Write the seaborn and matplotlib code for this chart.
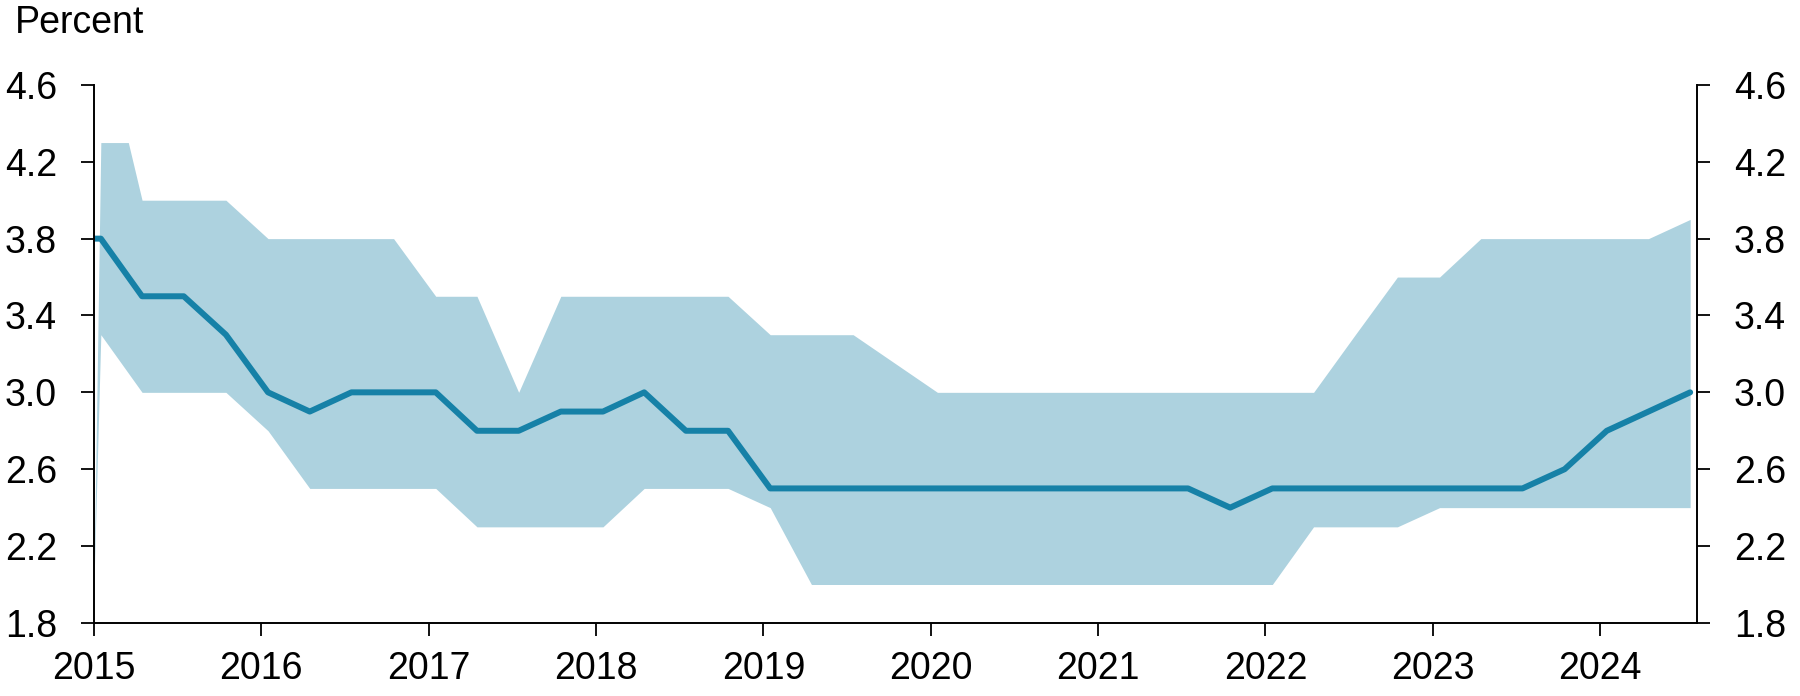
import matplotlib
matplotlib.use('Agg')
import matplotlib.pyplot as plt
import matplotlib.dates as mdates
import seaborn as sns
import pandas as pd

# -------------------------------
# DATA
# -------------------------------

quarters = [f'{y}-{m:02d}-16' for y in range(2015, 2025) for m in (1, 4, 7, 10)]
dates = ['2015-01-01', '2015-01-16', '2015-03-17'] + [d for d in quarters if '2015-04-16' <= d <= '2024-07-16']

median = [3.8, 3.8, 3.6,
          3.5, 3.5, 3.3,
          3.0, 2.9, 3.0, 3.0,
          3.0, 2.8, 2.8, 2.9,
          2.9, 3.0, 2.8, 2.8,
          2.5, 2.5, 2.5, 2.5,
          2.5, 2.5, 2.5, 2.5,
          2.5, 2.5, 2.5, 2.4,
          2.5, 2.5, 2.5, 2.5,
          2.5, 2.5, 2.5, 2.6,
          2.8, 2.9, 3.0]

low = [2.0, 3.3, 3.1,
       3.0, 3.0, 3.0,
       2.8, 2.5, 2.5, 2.5,
       2.5, 2.3, 2.3, 2.3,
       2.3, 2.5, 2.5, 2.5,
       2.4, 2.0, 2.0, 2.0,
       2.0, 2.0, 2.0, 2.0,
       2.0, 2.0, 2.0, 2.0,
       2.0, 2.3, 2.3, 2.3,
       2.4, 2.4, 2.4, 2.4,
       2.4, 2.4, 2.4]

high = [2.0, 4.3, 4.3,
        4.0, 4.0, 4.0,
        3.8, 3.8, 3.8, 3.8,
        3.5, 3.5, 3.0, 3.5,
        3.5, 3.5, 3.5, 3.5,
        3.3, 3.3, 3.3, 3.15,
        3.0, 3.0, 3.0, 3.0,
        3.0, 3.0, 3.0, 3.0,
        3.0, 3.0, 3.3, 3.6,
        3.6, 3.8, 3.8, 3.8,
        3.8, 3.8, 3.9]

yticks = [1.8, 2.2, 2.6, 3.0, 3.4, 3.8, 4.2, 4.6]

df = pd.DataFrame({'date': pd.to_datetime(dates), 'median': median,
                   'low': low, 'high': high})

# -------------------------------
# PLOT
# -------------------------------

sns.set_style('ticks')
plt.rcParams['font.family'] = ['Liberation Sans', 'DejaVu Sans']
plt.rcParams['text.color'] = 'black'

fig = plt.figure(figsize=(18, 6.96), dpi=100)
ax = fig.add_axes([0.0522, 0.105, 0.8906, 0.773])

ax.fill_between(df['date'], df['low'], df['high'], color='#add2df', linewidth=0)
sns.lineplot(data=df, x='date', y='median', ax=ax, color='#1681a7',
             linewidth=4.3, solid_capstyle='round')

ax.set_ylim(1.8, 4.6)
ax.set_yticks(yticks)
ax.set_yticklabels([f'{t:.1f}' for t in yticks])
ax.set_xlim(pd.Timestamp('2015-01-01'), pd.Timestamp('2024-07-31'))
ax.xaxis.set_major_locator(mdates.YearLocator())
ax.xaxis.set_major_formatter(mdates.DateFormatter('%Y'))

ax.set_xlabel('')
ax.set_ylabel('')

for side in ['left', 'right', 'bottom']:
    ax.spines[side].set_visible(True)
    ax.spines[side].set_linewidth(1.4)
    ax.spines[side].set_color('black')
ax.spines['top'].set_visible(False)

ax.tick_params(axis='y', which='major', left=True, right=True,
               labelleft=True, labelright=True, direction='out',
               length=9.5, width=1.3, pad=17, labelsize=27, colors='black')
ax.tick_params(axis='x', which='major', direction='out', length=9.5,
               width=1.3, pad=11, labelsize=27, colors='black')

fig.text(0.008, 0.993, 'Percent', ha='left', va='top', fontsize=27,
         color='black')

fig.savefig('out.png', dpi=100)
